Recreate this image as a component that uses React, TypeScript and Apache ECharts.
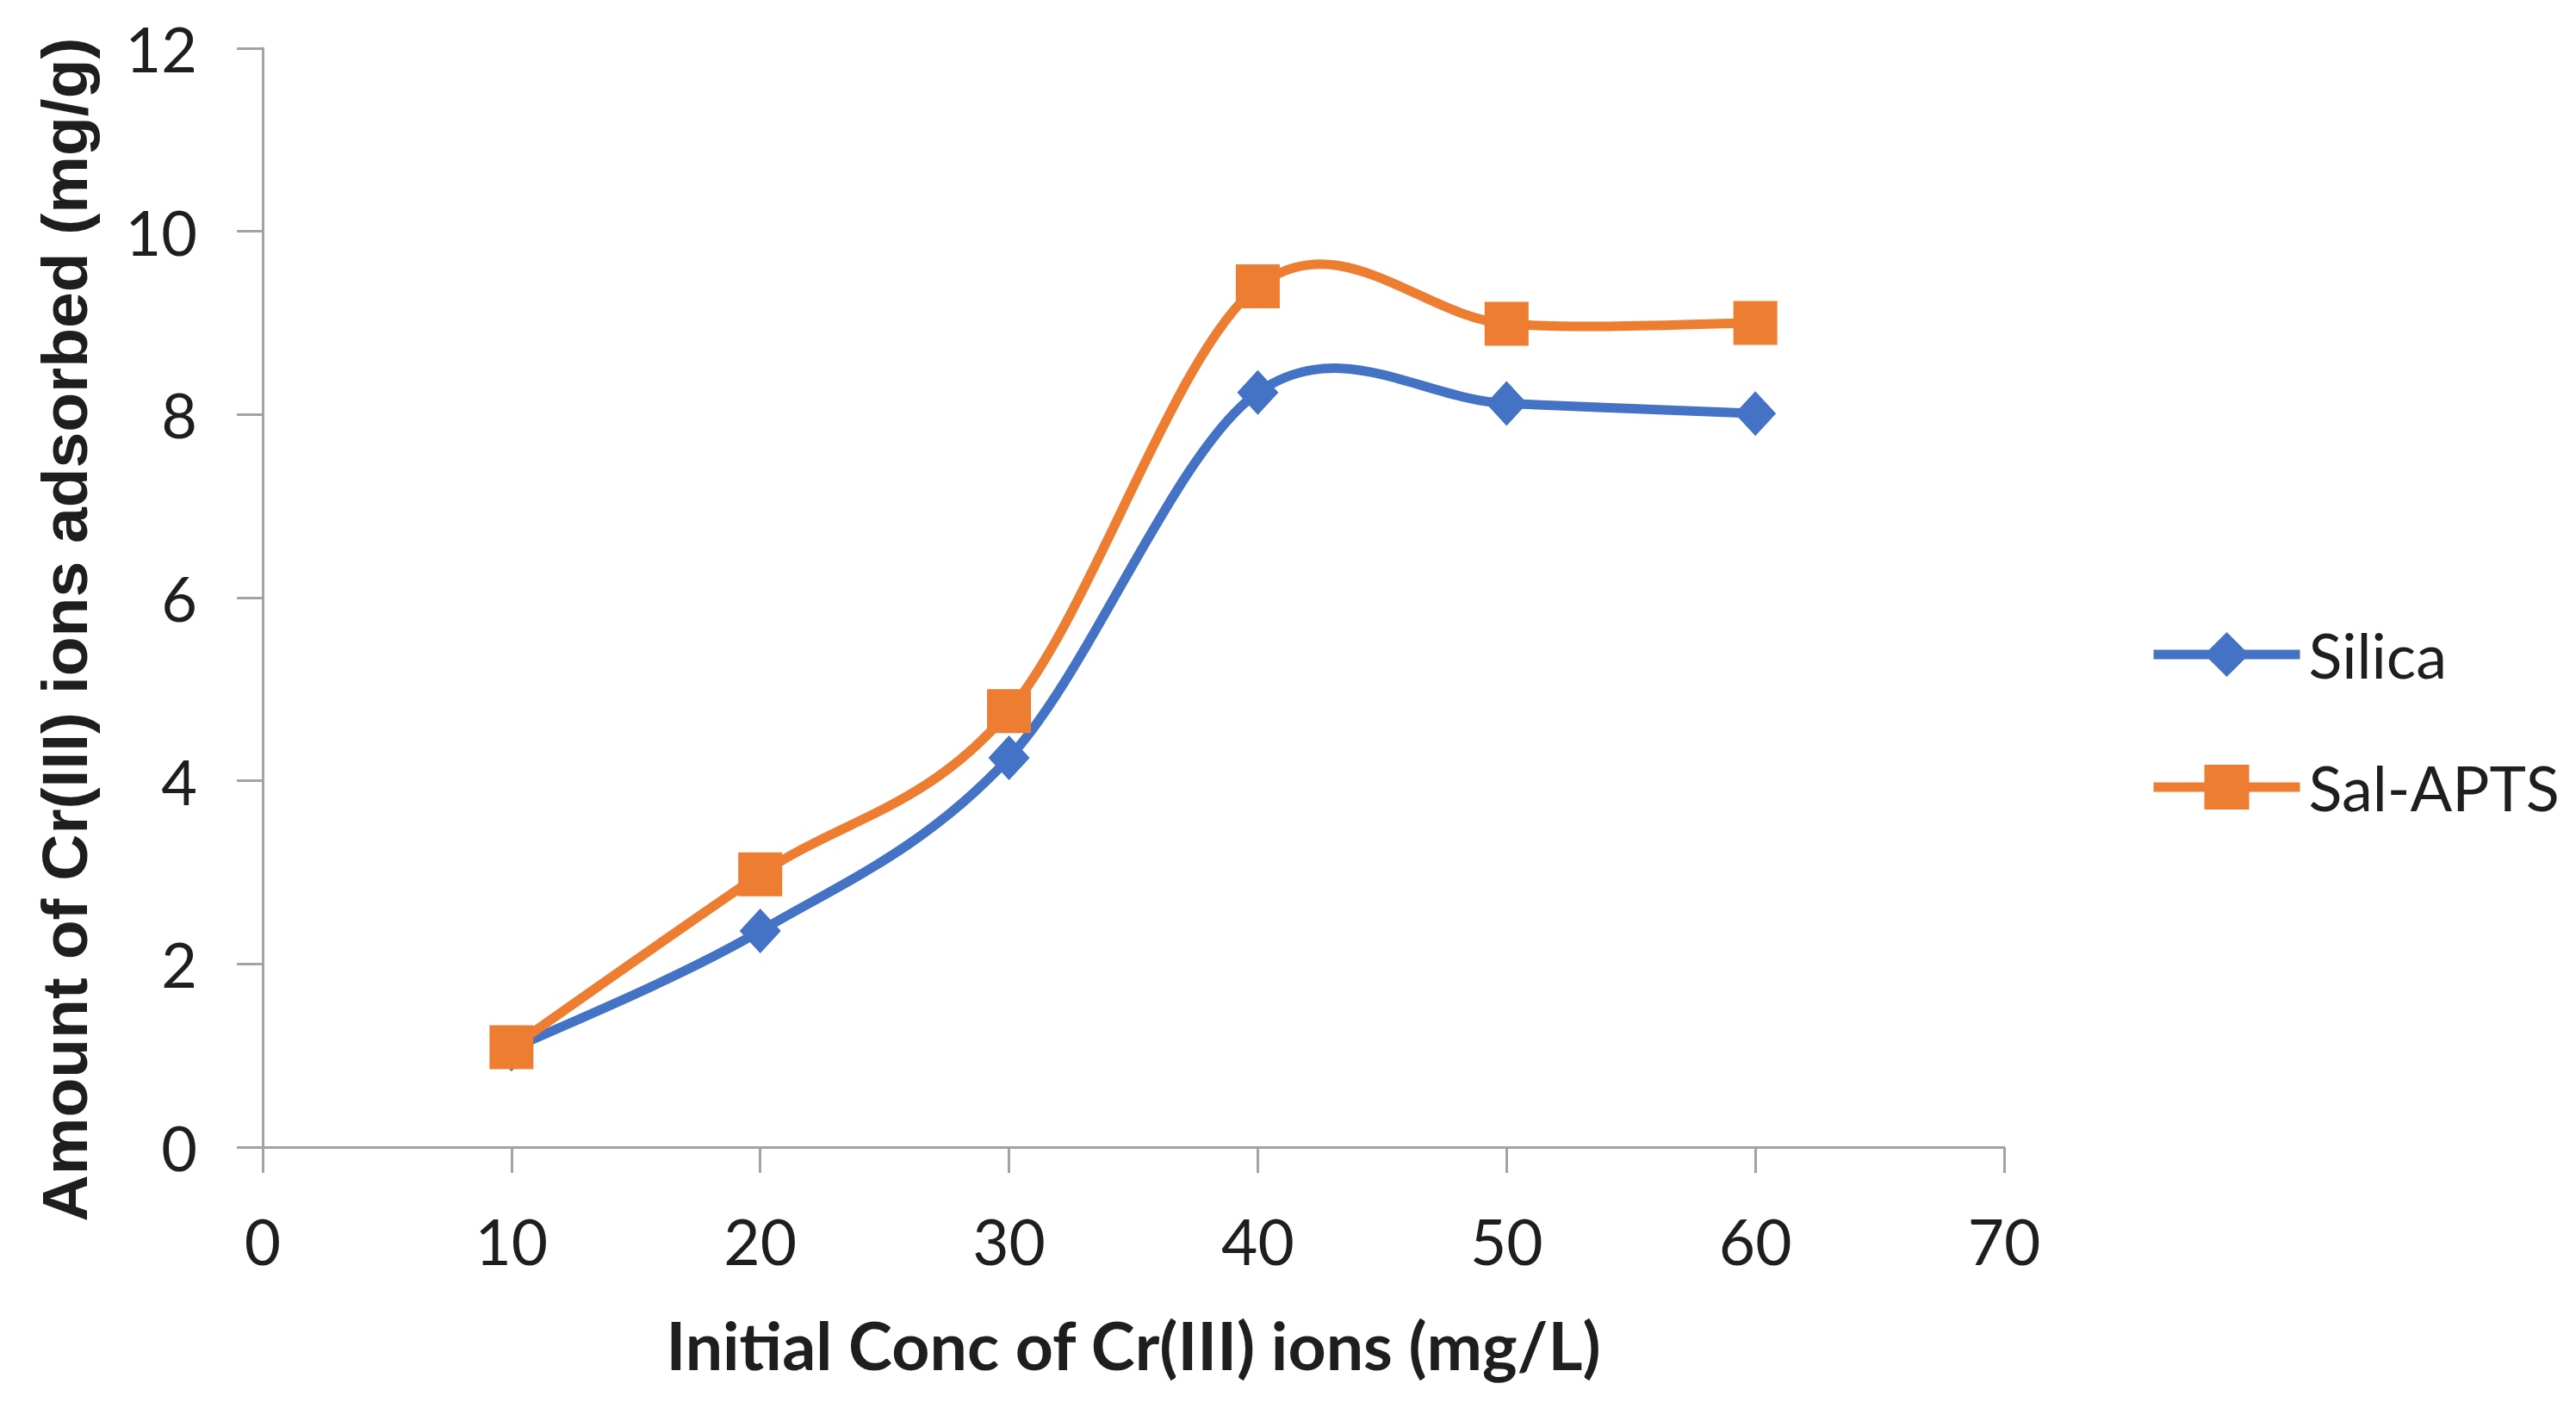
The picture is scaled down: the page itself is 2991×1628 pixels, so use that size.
import React, { useEffect, useRef } from "react";
import * as echarts from "echarts";

const concentrations = [10, 20, 30, 40, 50, 60];
const silica = [1.07, 2.36, 4.25, 8.24, 8.12, 8.01];
const salApts = [1.09, 2.98, 4.76, 9.4, 8.99, 9.0];
const seriesNames = ["Silica", "Sal-APTS"];
const xTitle = "Initial Conc of Cr(III) ions (mg/L)";
const yTitle = "Amount of Cr(III) ions adsorbed (mg/g)";

const BLUE = "#4472C4";
const ORANGE = "#ED7D31";
const AXIS = "#a3a3a3";
const TEXT = "#1e1e1e";
const LINE_W = 11;

// Excel-style smoothed segment (Catmull-Rom, tension 1/6) drawn through the axis scales
function smoothRenderer(ys: number[], color: string) {
  return (params: any, api: any) => {
    const i = params.dataIndex;
    const n = ys.length;
    if (i >= n - 1) return { type: "group", children: [] };
    const pts = concentrations.map((x, k) => api.coord([x, ys[k]]));
    const p0 = pts[Math.max(0, i - 1)];
    const p1 = pts[i];
    const p2 = pts[i + 1];
    const p3 = pts[Math.min(n - 1, i + 2)];
    return {
      type: "bezierCurve",
      shape: {
        x1: p1[0],
        y1: p1[1],
        x2: p2[0],
        y2: p2[1],
        cpx1: p1[0] + (p2[0] - p0[0]) / 6,
        cpy1: p1[1] + (p2[1] - p0[1]) / 6,
        cpx2: p2[0] - (p3[0] - p1[0]) / 6,
        cpy2: p2[1] - (p3[1] - p1[1]) / 6,
      },
      style: { stroke: color, lineWidth: LINE_W, fill: "none", lineCap: "round" },
    };
  };
}

export default function App() {
  const ref = useRef<HTMLDivElement>(null);
  useEffect(() => {
    if (!ref.current) return;
    const chart = echarts.init(ref.current, undefined, { renderer: "svg" });
    const pair = (ys: number[]) => concentrations.map((x, i) => [x, ys[i]]);
    chart.setOption({
      animation: false,
      backgroundColor: "#ffffff",
      grid: { left: 305, right: 664, top: 56, bottom: 296, containLabel: false },
      legend: {
        orient: "vertical",
        left: 2490,
        top: 719,
        itemWidth: 170,
        itemHeight: 65,
        itemGap: 82,
        data: seriesNames,
        lineStyle: { width: LINE_W },
        textStyle: {
          fontFamily: "Lato",
          fontSize: 72,
          lineHeight: 72,
          color: TEXT,
          padding: [0, 0, 0, 5],
        },
      },
      xAxis: {
        type: "value",
        min: 0,
        max: 70,
        interval: 10,
        name: xTitle,
        nameLocation: "middle",
        nameGap: 190,
        nameTextStyle: { fontFamily: "Lato", fontWeight: "bold", fontSize: 77, color: TEXT },
        axisLine: { show: true, lineStyle: { color: AXIS, width: 3 } },
        axisTick: { show: true, length: 30, lineStyle: { color: AXIS, width: 3 } },
        axisLabel: { margin: 72, fontFamily: "Lato", fontSize: 73, color: TEXT },
        splitLine: { show: false },
      },
      yAxis: {
        type: "value",
        min: 0,
        max: 12,
        interval: 2,
        name: yTitle,
        nameLocation: "middle",
        nameGap: 193,
        nameTextStyle: {
          fontFamily: "Liberation Sans",
          fontWeight: "bold",
          fontSize: 75,
          color: TEXT,
          padding: [0, 74, 0, 0],
        },
        axisLine: { show: true, lineStyle: { color: AXIS, width: 3 } },
        axisTick: { show: true, length: 30, lineStyle: { color: AXIS, width: 3 } },
        axisLabel: { margin: 76, fontFamily: "Lato", fontSize: 72, color: TEXT },
        splitLine: { show: false },
      },
      series: [
        {
          name: seriesNames[0],
          type: "line",
          data: pair(silica),
          symbol: "diamond",
          symbolSize: [48, 52],
          lineStyle: { color: BLUE, width: 0 },
          itemStyle: { color: BLUE },
          z: 4,
        },
        {
          name: seriesNames[1],
          type: "line",
          data: pair(salApts),
          symbol: "rect",
          symbolSize: 51,
          lineStyle: { color: ORANGE, width: 0 },
          itemStyle: { color: ORANGE },
          z: 5,
        },
        {
          name: "Silica curve",
          type: "custom",
          data: pair(silica),
          encode: { x: 0, y: 1 },
          renderItem: smoothRenderer(silica, BLUE),
          z: 2,
          silent: true,
        },
        {
          name: "Sal-APTS curve",
          type: "custom",
          data: pair(salApts),
          encode: { x: 0, y: 1 },
          renderItem: smoothRenderer(salApts, ORANGE),
          z: 3,
          silent: true,
        },
      ],
    });
    return () => chart.dispose();
  }, []);
  return (
    <div
      ref={ref}
      style={{ position: "absolute", left: 0, top: 0, width: 2991, height: 1628, background: "#fff" }}
    />
  );
}
